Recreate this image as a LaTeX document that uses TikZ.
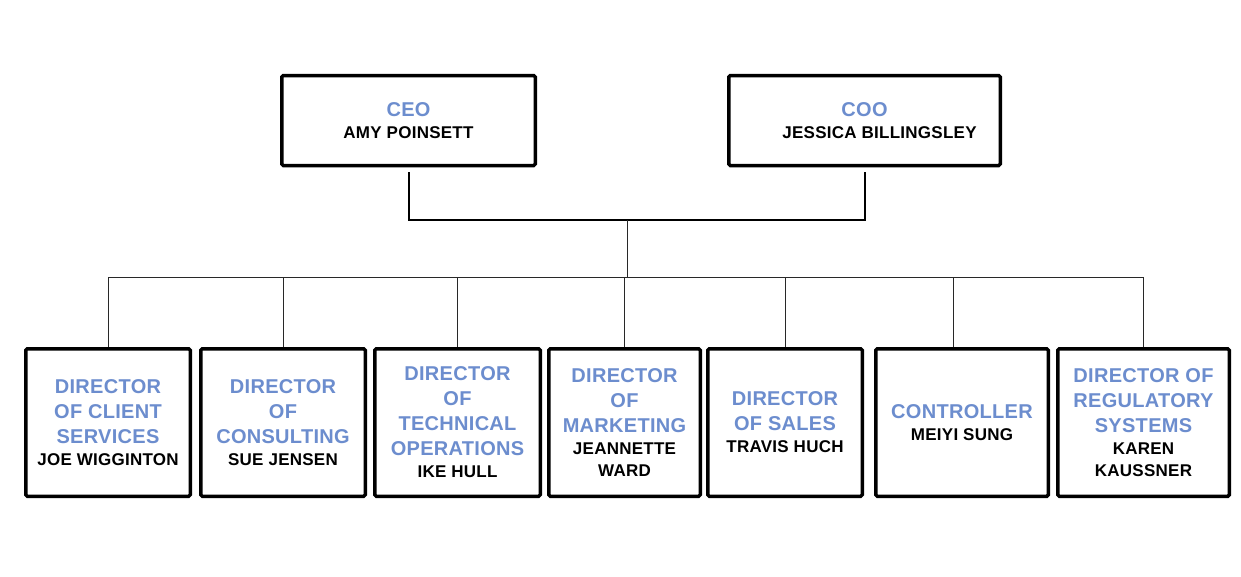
\documentclass[tikz,border=0pt]{standalone}
\usepackage{fontspec}
\newfontfamily\orgfont{Liberation Sans}[LetterSpace=1.5]
\definecolor{titleblue}{RGB}{108,141,206}
\definecolor{wire}{RGB}{40,40,40}
\newcommand\who[1]{{\color{black}\fontsize{17}{22}\selectfont #1}}
\tikzset{
  orgbox/.style={draw=black, line width=3.5pt, rounded corners=1.5pt, fill=white,
    align=center, text=titleblue, inner sep=0pt,
    font=\orgfont\bfseries\fontsize{20}{25}\selectfont},
  topbox/.style={orgbox, minimum height=90pt},
  lowbox/.style={orgbox, minimum height=147.5pt},
  wirethick/.style={draw=black, line width=2pt},
  wirethin/.style={draw=wire, line width=1pt}
}
\begin{document}
\begin{tikzpicture}[x=1pt,y=-1pt]
\useasboundingbox (0,0) rectangle (1241,576);

% executive level
\node[topbox, minimum width=253.5pt] (ceo) at (408.5,120.5)
  {CEO\\[-3pt]\who{AMY POINSETT}};
\node[topbox, minimum width=271.5pt] (coo) at (864.5,120.5)
  {COO\\[-3pt]\hspace*{30pt}\who{JESSICA BILLINGSLEY}};

% director level
\node[lowbox, minimum width=164.5pt] (b1) at (108,422.5)
  {DIRECTOR\\OF CLIENT\\SERVICES\\[-3pt]\who{JOE WIGGINTON}};
\node[lowbox, minimum width=164.5pt] (b2) at (283,422.5)
  {DIRECTOR\\OF\\CONSULTING\\[-3pt]\who{SUE JENSEN}};
\node[lowbox, minimum width=165.5pt] (b3) at (457.5,422.5)
  {DIRECTOR\\OF\\TECHNICAL\\OPERATIONS\\[-3pt]\who{IKE HULL}};
\node[lowbox, minimum width=151.5pt] (b4) at (624.5,422.5)
  {DIRECTOR\\OF\\MARKETING\\[-3pt]\who{JEANNETTE}\\[-3pt]\who{WARD}};
\node[lowbox, minimum width=154.5pt] (b5) at (785,422.5)
  {DIRECTOR\\OF SALES\\[-3pt]\who{TRAVIS HUCH}};
\node[lowbox, minimum width=172.5pt] (b6) at (962,422.5)
  {CONTROLLER\\[-3pt]\who{MEIYI SUNG}};
\node[lowbox, minimum width=171.5pt] (b7) at (1143.5,422.5)
  {DIRECTOR OF\\REGULATORY\\SYSTEMS\\[-3pt]\who{KAREN}\\[-3pt]\who{KAUSSNER}};

% junction points of the connector tree
\coordinate (join) at (627,220);
\coordinate (bus) at (627,277);

% executives joined together
\draw[wirethick] ([yshift=-5pt]ceo.south) -- (ceo.south |- join)
  -- (coo.south |- join) -- ([yshift=-5pt]coo.south);
\draw[wirethin] (join) -- (bus);

% bus to each director
\draw[wirethin] (b1.north |- bus) -- (b7.north |- bus);
\foreach \b in {b1,b2,b3,b4,b5,b7}
  \draw[wirethin] (\b.north |- bus) -- (\b.north);
\draw[wirethin] ([xshift=-9pt]b6.north |- bus) -- ([xshift=-9pt]b6.north);
\end{tikzpicture}
\end{document}
